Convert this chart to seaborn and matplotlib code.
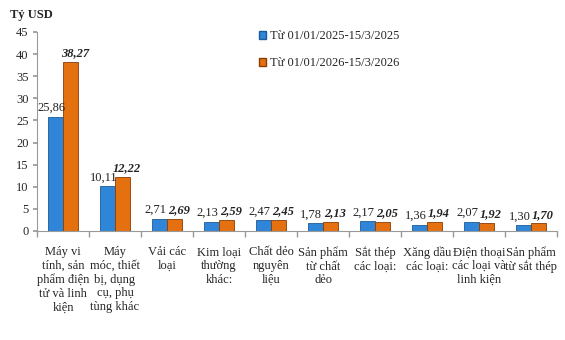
import matplotlib
matplotlib.use("Agg")
import matplotlib.pyplot as plt
import seaborn as sns
import pandas as pd
import numpy as np
from matplotlib.patches import Patch

categories = [
    "Máy vi\ntính, sản\nphẩm điện\ntử và linh\nkiện",
    "Máy\nmóc, thiết\nbị, dụng\ncụ, phụ\ntùng khác",
    "Vải các\nloại",
    "Kim loại\nthường\nkhác:",
    "Chất dẻo\nnguyên\nliệu",
    "Sản phẩm\ntừ chất\ndẻo",
    "Sắt thép\ncác loại:",
    "Xăng dầu\ncác loại:",
    "Điện thoại\ncác loại và\nlinh kiện",
    "Sản phẩm\ntừ sắt thép",
]
series_names = ["Từ 01/01/2025-15/3/2025", "Từ 01/01/2026-15/3/2026"]
values_2025 = [25.86, 10.11, 2.71, 2.13, 2.47, 1.78, 2.17, 1.36, 2.07, 1.30]
values_2026 = [38.27, 12.22, 2.69, 2.59, 2.45, 2.13, 2.05, 1.94, 1.92, 1.70]
y_ticks = [0, 5, 10, 15, 20, 25, 30, 35, 40, 45]

df = pd.DataFrame({
    "cat": categories * 2,
    "period": [series_names[0]] * len(categories) + [series_names[1]] * len(categories),
    "value": values_2025 + values_2026,
})

sns.set_theme(style="white")
plt.rcParams["font.family"] = ["Liberation Serif", "DejaVu Serif"]

fs = 9
fig = plt.figure(figsize=(5.65, 3.4), dpi=100)
ax = fig.add_axes([0.0655, 0.3206, 0.9205, 0.5854])

colors = ["#2f86d8", "#e5700f"]
sns.barplot(data=df, x="cat", y="value", hue="period", palette=colors,
            width=0.58, ax=ax, legend=False, saturation=1)

edge = {0: "#1d5a96", 1: "#8a3d05"}
for i, cont in enumerate(ax.containers):
    for bar in cont:
        bar.set_edgecolor(edge[i])
        bar.set_linewidth(0.6)

def fmt(v):
    return f"{v:.2f}".replace(".", ",")

for i, cont in enumerate(ax.containers):
    vals = values_2025 if i == 0 else values_2026
    for bar, v in zip(cont, vals):
        cx = bar.get_x() + bar.get_width() / 2
        if i == 0:
            ax.annotate(fmt(v), (cx, v), xytext=(-3, 2), textcoords="offset points",
                        ha="center", va="bottom", fontsize=fs, color="#222222")
        else:
            ax.annotate(fmt(v), (cx, v), xytext=(3, 2), textcoords="offset points",
                        ha="center", va="bottom", fontsize=fs, color="#222222",
                        fontweight="bold", fontstyle="italic")

ax.set_ylim(0, 45)
ax.set_yticks(y_ticks)
ax.set_xlim(-0.5, len(categories) - 0.5)
ax.set_xlabel("")
ax.set_ylabel("")
ax.tick_params(axis="y", labelsize=fs, length=3, left=True, color="#999999", pad=3)
ax.tick_params(axis="x", labelsize=fs, length=0, pad=11)
ax.set_xticks(range(len(categories)))
ax.set_xticklabels(categories, linespacing=1.18)
ax.set_xticks(np.arange(-0.5, len(categories), 1), minor=True)
ax.tick_params(axis="x", which="minor", length=4, bottom=True, color="#999999")

for side in ["top", "right"]:
    ax.spines[side].set_visible(False)
for side in ["left", "bottom"]:
    ax.spines[side].set_color("#999999")
    ax.spines[side].set_linewidth(0.8)

fig.text(0.018, 0.955, "Tỷ USD", fontsize=fs, fontweight="bold", ha="left", va="center")

handles = [Patch(facecolor=colors[0], edgecolor=edge[0]),
           Patch(facecolor=colors[1], edgecolor=edge[1])]
ax.legend(handles, series_names, loc="upper left", bbox_to_anchor=(0.405, 1.065),
          frameon=False, fontsize=fs, handlelength=0.6, handleheight=0.6,
          handletextpad=0.3, labelspacing=1.2)

fig.savefig("out.png", dpi=100)
